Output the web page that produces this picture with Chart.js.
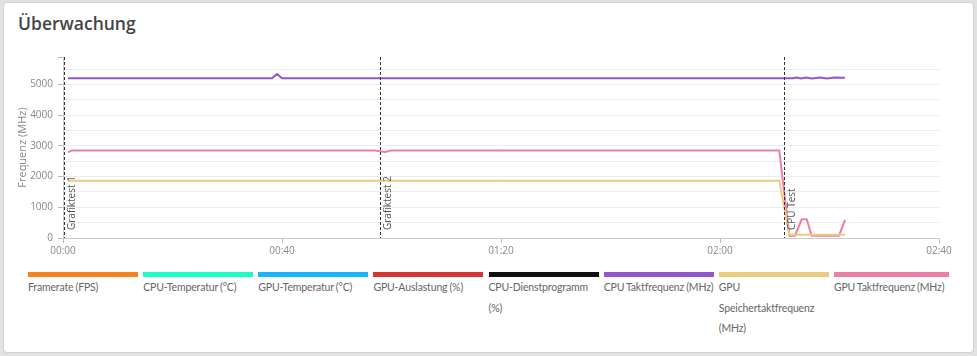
<!DOCTYPE html>
<html><head><meta charset="utf-8">
<script src="https://cdn.jsdelivr.net/npm/chart.js@4"></script>
<style>
html,body{margin:0;padding:0;width:977px;height:356px;overflow:hidden;background:#e2e2e2;font-family:"Open Sans",sans-serif;}
#card{position:absolute;left:3px;top:2px;width:969px;height:349px;background:#fff;border:1px solid #d2d2d2;border-radius:4px;}
#title{position:absolute;left:18px;top:11px;font-size:17.5px;font-weight:600;color:#444;}
#wrap{position:absolute;left:0;top:0;width:977px;height:265px;}
#legend{position:absolute;left:28px;top:272px;display:flex;}
.li{width:110px;margin-right:5.14px;}
.li:last-child{width:115px;margin-right:0;}
.bar{height:5px;}
.lt{font-family:Lato,sans-serif;font-size:10.5px;line-height:20.7px;color:#666;letter-spacing:-0.15px;word-spacing:-0.5px;}
</style>
</head><body>
<div id="card"></div>
<div id="title">Überwachung</div>
<div id="wrap"><canvas id="c" width="977" height="265"></canvas></div>
<div id="legend"></div>
<script>
// ---- data (time in minutes) ----
const seriesNames = ['Framerate (FPS)','CPU-Temperatur (°C)','GPU-Temperatur (°C)','GPU-Auslastung (%)','CPU-Dienstprogramm (%)','CPU Taktfrequenz (MHz)','GPU Speichertaktfrequenz (MHz)','GPU Taktfrequenz (MHz)'];
const seriesColors = ['#F5821F','#1DFCC6','#17B5FC','#D63333','#111111','#9257CC','#E9CC7E','#EC7FA6'];

const cpuClockTimes  = [0.91, 38.17, 39.09, 40.0, 133.33, 134.06, 134.79, 135.71, 136.8, 138.26, 139.54, 141.0, 142.83];
const cpuClockValues = [5205, 5205, 5345, 5205, 5205, 5230, 5200, 5230, 5200, 5230, 5200, 5230, 5220];

const gpuMemTimes  = [0.91, 130.83, 132.66, 142.83];
const gpuMemValues = [1870, 1870, 105, 105];

const gpuClockTimes  = [0.91, 1.64, 56.99, 58.81, 59.91, 130.83, 132.66, 133.7, 134.92, 135.83, 136.75, 141.74, 142.83];
const gpuClockValues = [2800, 2850, 2850, 2805, 2850, 2850, 75, 75, 610, 610, 75, 75, 590];

const markerTimes  = [0.1, 57.96, 131.7];
const markerLabels = ['Grafiktest 1', 'Grafiktest 2', 'CPU Test'];

const xTicks = [0, 40, 80, 120, 160];
const yTicks = [0, 500, 1000, 1500, 2000, 2500, 3000, 3500, 4000, 4500, 5000, 5500, 5900];
const yLabelTicks = [0, 1000, 2000, 3000, 4000, 5000];

function pts(t, v){ return t.map((x,i)=>({x:x, y:v[i]})); }
const seriesData = [[],[],[],[],[], pts(cpuClockTimes,cpuClockValues), pts(gpuMemTimes,gpuMemValues), pts(gpuClockTimes,gpuClockValues)];

function fmt(m){ return String(Math.floor(m/60)).padStart(2,'0')+':'+String(m%60).padStart(2,'0'); }

const markerPlugin = {
  id:'markers',
  afterDatasetsDraw(chart){
    const {ctx, chartArea, scales} = chart;
    const x = scales.x;
    ctx.save();
    markerTimes.forEach((t,i)=>{
      const px = Math.round(x.getPixelForValue(t))+0.5;
      ctx.strokeStyle='#333'; ctx.lineWidth=1; ctx.setLineDash([3,2]);
      ctx.beginPath(); ctx.moveTo(px,chartArea.top); ctx.lineTo(px,chartArea.bottom); ctx.stroke();
      ctx.save();
      ctx.translate(px+8, chartArea.bottom-8);
      ctx.rotate(-Math.PI/2);
      ctx.fillStyle='#555'; ctx.font='10px "Open Sans"';
      ctx.textBaseline='middle'; ctx.textAlign='left';
      ctx.fillText(markerLabels[i],0,0);
      ctx.restore();
    });
    ctx.restore();
  }
};

const chart = new Chart(document.getElementById('c'), {
  type:'line',
  data:{
    datasets: seriesNames.map((n,i)=>({
      label:n, data:seriesData[i], borderColor:seriesColors[i], backgroundColor:seriesColors[i],
      borderWidth:2, pointRadius:0, tension:0, fill:false
    }))
  },
  plugins:[markerPlugin],
  options:{
    responsive:false, animation:false, devicePixelRatio:1,
    layout:{padding:{left:10,right:38,top:57,bottom:0}},
    plugins:{legend:{display:false}, tooltip:{enabled:false}},
    scales:{
      x:{
        type:'linear', min:0, max:160,
        afterBuildTicks(s){ s.ticks = xTicks.map(v=>({value:v})); },
        afterFit(s){ s.height = 27; },
        ticks:{callback:v=>fmt(v), color:'#888', font:{size:10, family:'"Open Sans"'}, padding:2, maxRotation:0, autoSkip:false},
        grid:{drawOnChartArea:false, drawTicks:true, tickLength:5, tickColor:'#bbb'},
        border:{color:'#ccc'}
      },
      y:{
        type:'linear', min:0, max:5900,
        afterBuildTicks(s){ s.ticks = yTicks.map(v=>({value:v})); },
        afterFit(s){ s.width = 53; },
        ticks:{callback:v=>(yLabelTicks.includes(v)?String(v):''), color:'#888', font:{size:10, family:'"Open Sans"'}, padding:5, autoSkip:false},
        grid:{
          color:c=>(c.tick && c.tick.value>0 && c.tick.value<5900)?'#ececec':'rgba(0,0,0,0)',
          tickColor:c=>(c.tick && (yLabelTicks.includes(c.tick.value) || c.tick.value===5900))?'#bbb':'rgba(0,0,0,0)',
          tickLength:5
        },
        border:{color:'#ccc'},
        title:{display:true, text:'Frequenz (MHz)', color:'#888', font:{size:11, family:'"Open Sans"'}, padding:{top:6,bottom:0}}
      }
    }
  }
});

const lg = document.getElementById('legend');
chart.data.datasets.forEach(d=>{
  const it = document.createElement('div'); it.className='li';
  const b = document.createElement('div'); b.className='bar'; b.style.background=d.borderColor;
  const t = document.createElement('div'); t.className='lt'; t.textContent=d.label;
  it.appendChild(b); it.appendChild(t); lg.appendChild(it);
});
</script>
</body></html>
